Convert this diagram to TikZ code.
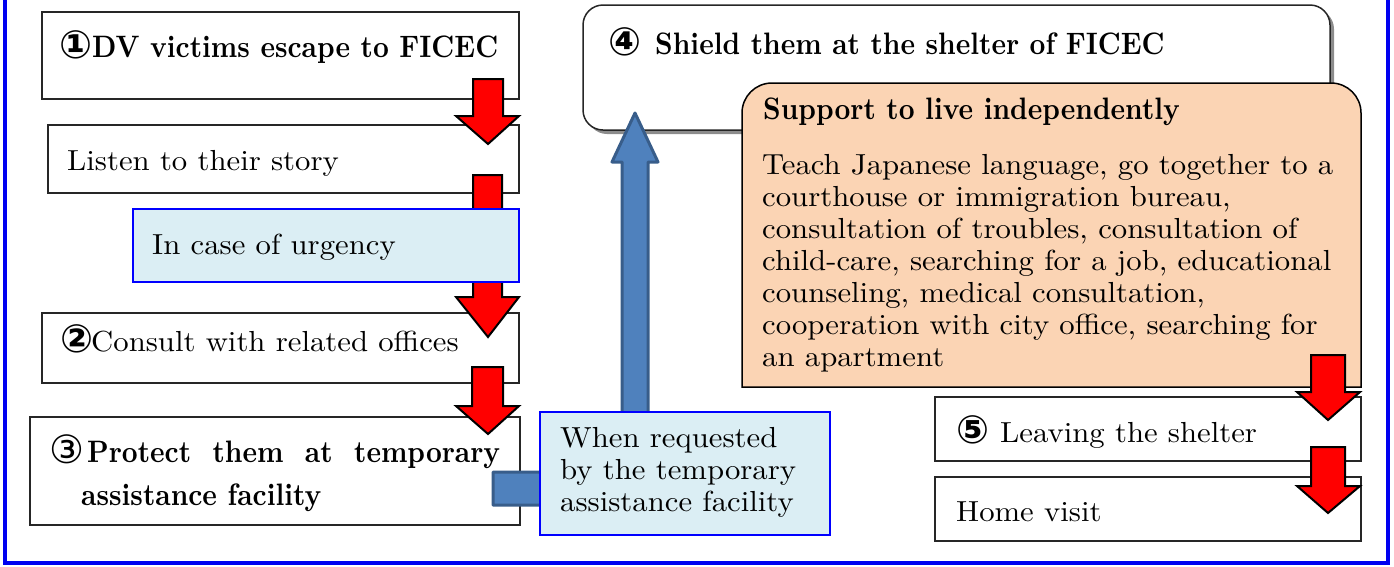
\documentclass[tikz,border=0pt]{standalone}
\usepackage{fontspec}
\newfontfamily\rmreg{lmroman10-regular}[Extension=.otf,FakeStretch=1.06]
\newfontfamily\rmbold{lmroman10-bold}[Extension=.otf,FakeStretch=0.89]
\newfontfamily\symfont{DejaVu Sans}
\definecolor{lightblue}{HTML}{DBEEF4}
\definecolor{peach}{HTML}{FBD4B4}
\definecolor{arrowblue}{HTML}{4F81BD}
\definecolor{arrowedge}{HTML}{385D8A}
\definecolor{framblue}{HTML}{0000F0}
\newcommand\circnum[2]{\makebox[#1][l]{\symfont\bfseries\fontsize{39}{32}\selectfont\raisebox{-1pt}{#2}}}
\newcommand\circnumreg[2]{\makebox[#1][l]{\symfont\fontsize{39}{32}\selectfont\raisebox{-1pt}{#2}}}
\tikzset{
 box/.style={draw=black!85, line width=1.5pt, fill=white, anchor=north west, inner sep=0pt, outer sep=0pt},
 bluebox/.style={draw=blue, line width=1.2pt, fill=lightblue, anchor=north west, inner sep=0pt, outer sep=0pt},
 txt/.style={anchor=base west, inner sep=0pt, font=\rmreg\fontsize{29}{32}\selectfont},
 txtb/.style={anchor=base west, inner sep=0pt, font=\rmbold\fontsize{31}{32}\selectfont},
 redarrow/.style={fill=red, draw=black, line width=2pt, line join=miter},
 bluearrow/.style={fill=arrowblue, draw=arrowedge, line width=3pt, line join=round},
}
\begin{document}
\begin{tikzpicture}[x=1pt,y=-1pt]
\useasboundingbox (0,0) rectangle (1394,566);
% outer frame
\draw[framblue, line width=4pt] (5,-20) rectangle (1387.5,563);
% left column boxes
\node[box, minimum width=477pt, minimum height=87pt] (b1) at (42,12) {};
\node[box, minimum width=471pt, minimum height=68pt] (b2) at (48,125) {};
\node[box, minimum width=477pt, minimum height=70pt] (bc) at (42,313) {};
\node[box, minimum width=490pt, minimum height=108pt] (b3) at (30,417) {};
% red arrows left
\draw[redarrow] (473,79) -- (503,79) -- (503,116) -- (519,116) -- (488,144) -- (456,116) -- (473,116) -- cycle;
\draw[redarrow] (473,175) -- (502,175) -- (502,297) -- (519,297) -- (488,337) -- (456,297) -- (473,297) -- cycle;
\draw[redarrow] (472,367) -- (503,367) -- (503,406) -- (519,406) -- (488,434) -- (456,406) -- (472,406) -- cycle;
% urgency box
\node[bluebox, minimum width=386pt, minimum height=73pt] (urg) at (133,209) {};
% shelter box with shadow
\fill[gray!90, rounded corners=20pt] (587,9) rectangle (1334,134);
\node[box, rounded corners=20pt, minimum width=747pt, minimum height=125pt] (b4) at (583,5) {};
% orange box (rounded top corners)
\draw[fill=peach, draw=black, line width=1.5pt]
  (742,387) -- (742,113) .. controls (742,96.4) and (755.4,83) .. (772,83)
  -- (1331,83) .. controls (1347.6,83) and (1361,96.4) .. (1361,113)
  -- (1361,387) -- cycle;
% blue bent arrow
\draw[bluearrow] (493,472) -- (622,472) -- (622,162) -- (612,162) -- (635,113) -- (658,162) -- (648,162) -- (648,505) -- (493,505) -- cycle;
% when requested box
\node[bluebox, minimum width=290pt, minimum height=123pt] (wr) at (540,412) {};
% right column boxes
\node[box, minimum width=426pt, minimum height=64pt] (b5) at (935,397) {};
\node[box, minimum width=426pt, minimum height=64pt] (hv) at (935,477) {};
\draw[redarrow] (1311,355) -- (1345,355) -- (1345,392) -- (1360,392) -- (1328,420) -- (1297,392) -- (1311,392) -- cycle;
\draw[redarrow] (1311,447) -- (1345,447) -- (1345,486) -- (1360,486) -- (1328,513) -- (1297,486) -- (1311,486) -- cycle;
% texts
\node[txtb] (t1) at (59,57) {\circnum{33pt}{①}DV victims escape to FICEC};
\node[txt] (t2) at (67,170) {Listen to their story};
\node[txt] (t3) at (152,254) {In case of urgency};
\node[txt] (t4) at (60,351) {\circnum{31pt}{②}Consult with related offices};
\node[txtb] (t5) at (49,462) {\circnumreg{38pt}{③}\hbox to 413pt{Protect\hfil them\hfil at\hfil temporary}};
\node[txtb] (t6) at (81,505) {assistance facility};
\node[txt] (t7) at (560,447) {When requested};
\node[txt] (t8) at (560,479) {by the temporary};
\node[txt] (t9) at (560,511) {assistance facility};
\node[txtb] (t10) at (608,54) {\circnum{47pt}{④}Shield them at the shelter of FICEC};
\node[txtb] (t11) at (763,119) {Support to live independently};
\node[txt] (o1) at (762,174) {Teach Japanese language, go together to a};
\node[txt] (o2) at (762,206) {courthouse or immigration bureau,};
\node[txt] (o3) at (762,238) {consultation of troubles, consultation of};
\node[txt] (o4) at (762,270) {child-care, searching for a job, educational};
\node[txt] (o5) at (762,302) {counseling, medical consultation,};
\node[txt] (o6) at (762,334) {cooperation with city office, searching for};
\node[txt] (o7) at (762,366) {an apartment};
\node[txt] (t12) at (956,442) {\circnum{44pt}{⑤}Leaving the shelter};
\node[txt] (t13) at (956,521) {Home visit};
\end{tikzpicture}
\end{document}
